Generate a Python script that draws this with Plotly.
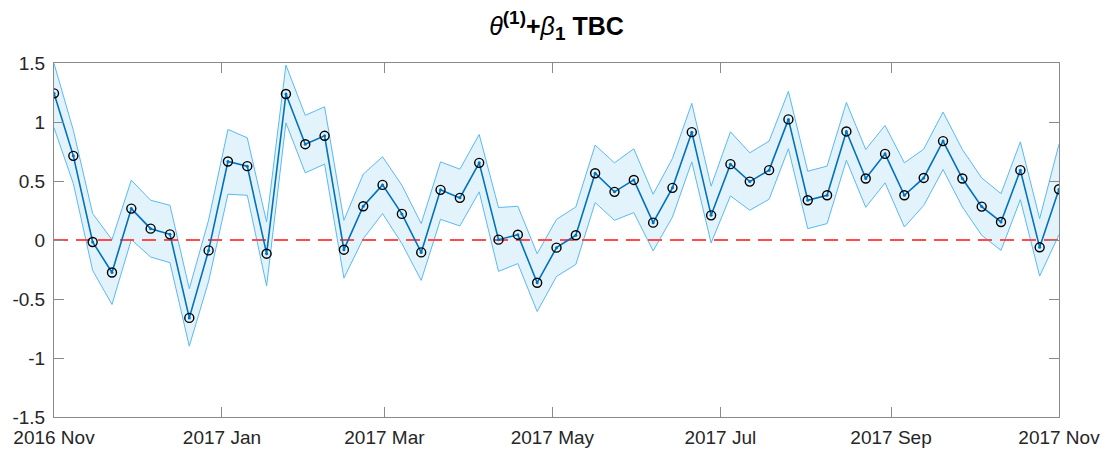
import pandas as pd
import plotly.graph_objects as go

start_date = "2016-11-01"
end_date = "2017-11-01"
n_points = 53

estimate = [1.243, 0.713, -0.017, -0.275, 0.266, 0.096, 0.048, -0.66, -0.088, 0.665,
            0.626, -0.116, 1.237, 0.812, 0.883, -0.082, 0.286, 0.467, 0.221, -0.105,
            0.425, 0.357, 0.654, 0.003, 0.045, -0.362, -0.065, 0.04, 0.566, 0.408,
            0.509, 0.147, 0.442, 0.914, 0.209, 0.643, 0.495, 0.592, 1.022, 0.337,
            0.379, 0.92, 0.521, 0.73, 0.379, 0.526, 0.838, 0.521, 0.283, 0.153,
            0.592, -0.062, 0.43]
upper = [1.497, 0.93, 0.224, 0.003, 0.507, 0.337, 0.294, -0.413, 0.17, 0.937,
         0.866, 0.153, 1.483, 1.056, 1.129, 0.167, 0.558, 0.705, 0.464, 0.139,
         0.662, 0.6, 0.894, 0.275, 0.286, -0.116, 0.175, 0.28, 0.804, 0.654,
         0.773, 0.388, 0.691, 1.158, 0.456, 0.917, 0.739, 0.838, 1.26, 0.583,
         0.626, 1.166, 0.767, 0.971, 0.654, 0.77, 1.084, 0.767, 0.526, 0.393,
         0.832, 0.181, 0.812]
lower = [0.951, 0.478, -0.258, -0.546, 0.003, -0.144, -0.192, -0.9, -0.35, 0.388,
         0.379, -0.39, 0.993, 0.569, 0.643, -0.323, 0.011, 0.224, -0.03, -0.342,
         0.175, 0.119, 0.408, -0.266, -0.2, -0.606, -0.309, -0.207, 0.317, 0.167,
         0.232, -0.093, 0.195, 0.662, -0.025, 0.374, 0.252, 0.345, 0.773, 0.096,
         0.139, 0.676, 0.277, 0.484, 0.11, 0.292, 0.597, 0.28, 0.04, -0.088,
         0.342, -0.306, 0.045]

y_tick_vals = [-1.5, -1, -0.5, 0, 0.5, 1, 1.5]
y_tick_text = ["-1.5", "-1", "-0.5", "0", "0.5", "1", "1.5"]

dates = pd.date_range(start_date, end_date, periods=n_points)

FONT = "Liberation Sans, Helvetica, Arial, sans-serif"
AXIS_COLOR = "#8a8a8a"
FIG_W, FIG_H = 1101, 446

fig = go.Figure()

# confidence band
fig.add_trace(go.Scatter(x=dates, y=lower, mode="lines",
                         line=dict(color="rgb(90,185,245)", width=1),
                         showlegend=False, hoverinfo="skip"))
fig.add_trace(go.Scatter(x=dates, y=upper, mode="lines",
                         line=dict(color="rgb(90,185,245)", width=1),
                         fill="tonexty", fillcolor="rgb(226,243,252)",
                         showlegend=False, hoverinfo="skip"))

# zero reference line
fig.add_trace(go.Scatter(x=[dates[0], dates[-1]], y=[0, 0], mode="lines",
                         line=dict(color="rgb(255,75,75)", width=2, dash="14px,8px"),
                         showlegend=False, hoverinfo="skip"))

# estimate line with small dots
fig.add_trace(go.Scatter(x=dates, y=estimate, mode="lines+markers",
                         line=dict(color="#0072BD", width=1.6),
                         marker=dict(color="#0072BD", size=3),
                         showlegend=False))
# open black circles
fig.add_trace(go.Scatter(x=dates, y=estimate, mode="markers",
                         marker=dict(symbol="circle-open", color="black", size=9,
                                     line=dict(width=1.4, color="black")),
                         showlegend=False))

title_text = ("<i>θ</i><b><sup><span style=\"font-size:19px\">(1)</span></sup>+</b>"
              "<i>β</i><b><sub><span style=\"font-size:19px\">1</span></sub> TBC</b>")

fig.update_layout(
    width=FIG_W, height=FIG_H,
    margin=dict(l=46, r=50, t=55, b=37),
    paper_bgcolor="white", plot_bgcolor="white",
    font=dict(family=FONT, size=19, color="#262626"),
    title=dict(
        text=title_text,
        x=0.5, xref="paper", xanchor="center",
        y=1 - 18 / FIG_H, yref="container", yanchor="middle",
        font=dict(family=FONT, size=25, color="black"),
    ),
    xaxis=dict(
        range=[start_date, end_date], automargin=False,
        tickformat="%Y %b", dtick="M2", tick0=start_date,
        ticks="inside", ticklen=10, tickwidth=1, tickcolor=AXIS_COLOR,
        showline=True, linecolor=AXIS_COLOR, linewidth=1, mirror="ticks",
        showgrid=False, zeroline=False, ticklabelstandoff=3,
        tickfont=dict(family=FONT, size=19, color="#262626"),
    ),
    yaxis=dict(
        range=[-1.5, 1.5], automargin=False,
        tickvals=y_tick_vals, ticktext=y_tick_text,
        ticks="inside", ticklen=10, tickwidth=1, tickcolor=AXIS_COLOR,
        showline=True, linecolor=AXIS_COLOR, linewidth=1, mirror="ticks",
        showgrid=False, zeroline=False, ticklabelstandoff=4,
        tickfont=dict(family=FONT, size=19, color="#262626"),
    ),
)

fig.write_html("out.html")
